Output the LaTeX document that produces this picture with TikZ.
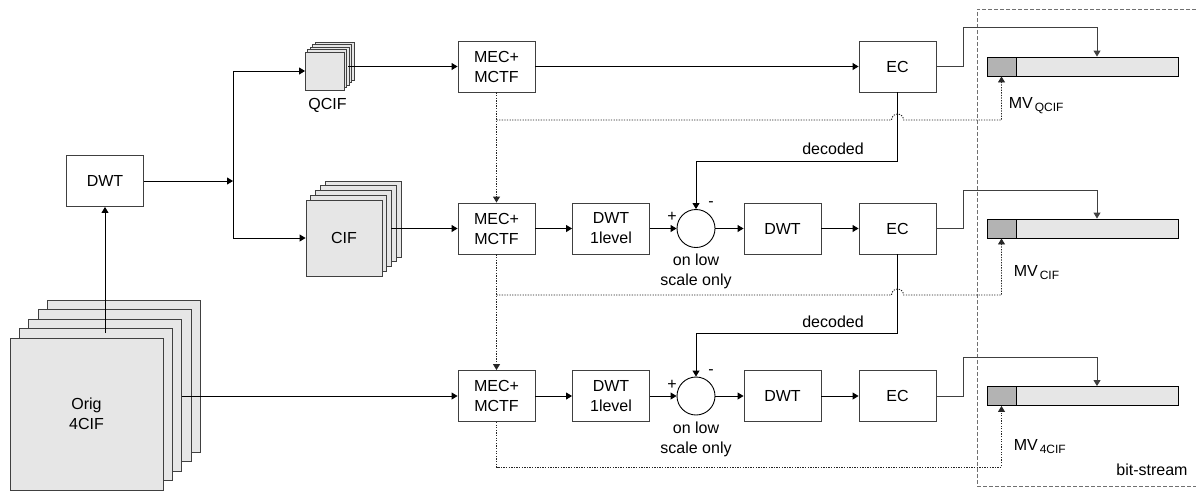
\documentclass[tikz,border=0pt]{standalone}
\usepackage{fontspec}
\setmainfont{Liberation Sans}
\usetikzlibrary{arrows.meta,positioning,calc}
\definecolor{framegray}{HTML}{E6E6E6}
\definecolor{mvgray}{HTML}{B3B3B3}
\definecolor{edgegray}{HTML}{404040}
\definecolor{bitgray}{HTML}{707070}
\newcommand{\mvsub}[1]{MV\hspace{2pt}\raisebox{-3pt}{\fontsize{12}{12}\selectfont #1}}

\begin{document}
\begin{tikzpicture}[x=1pt, y=-1pt, line width=0.9pt,
        font=\fontsize{16}{20}\selectfont,
        blk/.style = {draw=edgegray, minimum width=77pt, minimum height=51pt, inner sep=0pt, align=center},
        frame/.style = {draw=edgegray, fill=framegray, inner sep=0pt, align=center},
        sub/.style = {draw, circle, minimum size=38pt, inner sep=0pt},
        bar/.style = {draw, fill=framegray, minimum width=191pt, minimum height=19pt, inner sep=0pt},
        mvbox/.style = {draw, fill=mvgray, minimum width=29pt, minimum height=19pt, inner sep=0pt},
        arr/.style = {-{Triangle[length=6pt,width=7pt]}},
        outarr/.style = {edgegray, -{Triangle[length=6pt,width=7pt]}},
        dotarr/.style = {dash pattern=on 1.3pt off 1.3pt, black!85, -{Triangle[length=6pt,width=7pt]}} ]
    \useasboundingbox (0,0) rectangle (1196,491);

    % frame stacks
    \node[frame, minimum width=153pt, minimum height=152pt] (orig4) at (124.1,376.4) {};
    \node[frame, minimum width=153pt, minimum height=152pt] (orig3) at (114.7,385.8) {};
    \node[frame, minimum width=153pt, minimum height=152pt] (orig2) at (105.3,395.2) {};
    \node[frame, minimum width=153pt, minimum height=152pt] (orig1) at (95.9,404.6) {};
    \node[frame, minimum width=153pt, minimum height=152pt] (orig) at (86.5,414) {Orig\\4CIF};

    \node[frame, minimum width=39pt, minimum height=38pt] (qcif4) at (334.6,61.4) {};
    \node[frame, minimum width=39pt, minimum height=38pt] (qcif3) at (332.2,63.8) {};
    \node[frame, minimum width=39pt, minimum height=38pt] (qcif2) at (329.8,66.2) {};
    \node[frame, minimum width=39pt, minimum height=38pt] (qcif1) at (327.4,68.6) {};
    \node[frame, minimum width=39pt, minimum height=38pt] (qcif) at (325,71) {};
    \node (qciflbl) at (327.5,105) {QCIF};

    \node[frame, minimum width=76pt, minimum height=76pt] (cif4) at (363,219) {};
    \node[frame, minimum width=76pt, minimum height=76pt] (cif3) at (358.25,223.75) {};
    \node[frame, minimum width=76pt, minimum height=76pt] (cif2) at (353.5,228.5) {};
    \node[frame, minimum width=76pt, minimum height=76pt] (cif1) at (348.75,233.25) {};
    \node[frame, minimum width=76pt, minimum height=76pt] (cif) at (344,238) {CIF};

    \node[blk] (dwt) at (105,181) {DWT};
    \coordinate (split) at (233,181);
    \coordinate (origtop) at (105,333);
    \coordinate (origout) at (182,396);
    \coordinate (qcifout) at (348,66.5);
    \coordinate (cifout) at (391,228.5);

    % QCIF row
    \node[blk] (mec1) at (496.5,66.5) {MEC+\\MCTF};
    \node[blk] (ec1) at (897.5,66.5) {EC};

    % CIF row
    \node[blk] (mec2) at (496.5,228.5) {MEC+\\MCTF};
    \node[blk] (dwtl2) at (611,228.5) {DWT\\1level};
    \node[sub] (sub2) at (696,228.5) {};
    \node[blk] (dwt2) at (782.5,228.5) {DWT};
    \node[blk] (ec2) at (897.5,228.5) {EC};
    \node (plus2) at (672,217) {+};
    \node (minus2) at (711,204) {-};
    \node[align=center] (low2) at (696,271) {on low\\scale only};
    \node (dec1) at (833,149) {decoded};

    % 4CIF row
    \node[blk] (mec3) at (496.5,396) {MEC+\\MCTF};
    \node[blk] (dwtl3) at (611,396) {DWT\\1level};
    \node[sub] (sub3) at (696,396) {};
    \node[blk] (dwt3) at (782.5,396) {DWT};
    \node[blk] (ec3) at (897.5,396) {EC};
    \node (plus3) at (672,385) {+};
    \node (minus3) at (711,372) {-};
    \node[align=center] (low3) at (696,439) {on low\\scale only};
    \node (dec2) at (833,322) {decoded};

    % bit-stream
    \node[bar] (bs1) at (1082.5,66.5) {};
    \node[mvbox, anchor=west] (mv1) at (bs1.west) {};
    \node[bar] (bs2) at (1082.5,228.5) {};
    \node[mvbox, anchor=west] (mv2) at (bs2.west) {};
    \node[bar] (bs3) at (1082.5,396) {};
    \node[mvbox, anchor=west] (mv3) at (bs3.west) {};
    \node[anchor=west] (mvq) at (1005,106) {\mvsub{QCIF}};
    \node[anchor=west] (mvc) at (1010,273) {\mvsub{CIF}};
    \node[anchor=west] (mv4) at (1010,447) {\mvsub{4CIF}};
    \node (bslbl) at (1152,470) {bit-stream};
    \draw[bitgray, dash pattern=on 4pt off 2pt] (1196,9) -- (977,9) -- (977,486) -- (1196,486);

    % connectors
    \draw[arr] (origtop) -- (dwt.south);
    \draw[arr] (dwt.east) -- (split);
    \draw[arr] (split) |- (qcif.west);
    \draw[arr] (split) |- (cif.west);
    \draw[arr] (qcifout) -- (mec1.west);
    \draw[arr] (cifout) -- (mec2.west);
    \draw[arr] (origout) -- (mec3.west);

    \draw[arr] (mec1.east) -- (ec1.west);
    \draw[arr] (mec2.east) -- (dwtl2.west);
    \draw[arr] (dwtl2.east) -- (sub2.west);
    \draw[arr] (sub2.east) -- (dwt2.west);
    \draw[arr] (dwt2.east) -- (ec2.west);
    \draw[arr] (mec3.east) -- (dwtl3.west);
    \draw[arr] (dwtl3.east) -- (sub3.west);
    \draw[arr] (sub3.east) -- (dwt3.west);
    \draw[arr] (dwt3.east) -- (ec3.west);

    \draw[arr] (ec1.south) -- (897.5,161) -| (sub2.north);
    \draw[arr] (ec2.south) -- (897.5,333) -| (sub3.north);

    \draw[outarr] (ec1.east) -- (963,66.5) -- (963,27) -| ([xshift=14.5pt]bs1.north);
    \draw[outarr] (ec2.east) -- (963,228.5) -- (963,190) -| ([xshift=14.5pt]bs2.north);
    \draw[outarr] (ec3.east) -- (963,396) -- (963,357) -| ([xshift=14.5pt]bs3.north);

    \draw[dotarr] (mec1.south) -- (mec2.north);
    \draw[dotarr] (496.5,120) -- (891.5,120) arc[start angle=180, end angle=0, radius=6pt] -- (1001.5,120) -- (mv1.south);
    \draw[dotarr] (mec2.south) -- (mec3.north);
    \draw[dotarr] (496.5,295) -- (891.5,295) arc[start angle=180, end angle=0, radius=6pt] -- (1001.5,295) -- (mv2.south);
    \draw[dotarr] (mec3.south) -- (496.5,467) -- (1001.5,467) -- (mv3.south);

\end{tikzpicture}
\end{document}
